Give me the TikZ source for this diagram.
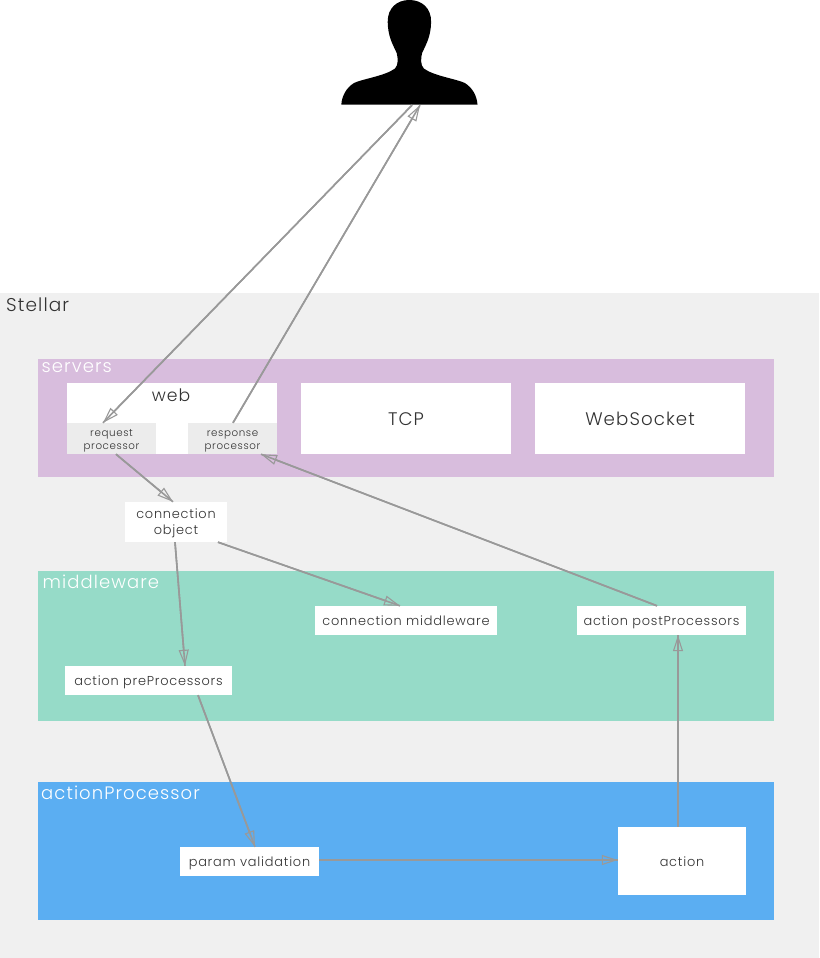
\documentclass[tikz,border=0pt]{standalone}
\usepackage{fontspec}
\setmainfont{Poppins}[UprightFont=* Light,LetterSpace=6]
\usetikzlibrary{arrows.meta}
\definecolor{stellarbg}{HTML}{F0F0F0}
\definecolor{serversbg}{HTML}{D8BDDD}
\definecolor{middlebg}{HTML}{96DBC8}
\definecolor{actionbg}{HTML}{5BAEF2}
\definecolor{procbg}{HTML}{ECECEC}
\definecolor{wire}{HTML}{999999}
\definecolor{ink}{HTML}{333333}
\tikzset{
	panel/.style={shape=rectangle, inner sep=0pt, minimum width=736pt},
	whitebox/.style={shape=rectangle, fill=white, inner sep=0pt, align=center, text=ink, text height=13pt, text depth=3pt, font=\fontsize{12.9}{16}\selectfont},
	bigbox/.style={whitebox, minimum width=210pt, minimum height=71pt, text height=16pt, text depth=3pt, font=\fontsize{18.2}{22}\selectfont},
	procbox/.style={shape=rectangle, fill=procbg, inner sep=0pt, align=center, minimum width=89pt, minimum height=31pt, text=ink, text height=25pt, text depth=3pt, font=\fontsize{10.3}{13.3}\selectfont},
	paneltitle/.style={anchor=base west, inner sep=0pt, text=white, font=\fontsize{18}{20}\selectfont},
	wirearrow/.style={draw=wire, line width=1.6pt, -{Triangle[open, length=16pt, width=10pt, line width=1.1pt]}, postaction={draw=wire, line width=1.6pt, arrows=-}}
}
\begin{document}
\begin{tikzpicture}[x=1pt, y=-1pt]
		\useasboundingbox (0,0) rectangle (819,958);
		% Background and panels:
		\node[shape=rectangle, fill=stellarbg, inner sep=0pt, minimum width=819pt, minimum height=665pt] (stellar) at (409.5, 625.5){};
		\node[panel, fill=serversbg, minimum height=118pt] (servers) at (406, 418){};
		\node[panel, fill=middlebg, minimum height=150pt] (middleware) at (406, 646){};
		\node[panel, fill=actionbg, minimum height=138pt] (actionproc) at (406, 851){};
		\node[anchor=base west, inner sep=0pt, text=ink, font=\fontsize{18.5}{24}\selectfont] (stellarlabel) at (6, 311){Stellar};
		\node[paneltitle] (serverslabel) at (41.5, 372.5){servers};
		\node[paneltitle] (middlelabel) at (42.5, 588.5){middleware};
		\node[paneltitle] (actionlabel) at (41, 799){actionProcessor};
		% Boxes:
		\node[whitebox, minimum width=210pt, minimum height=71pt] (web) at (172, 418.5){};
		\node[anchor=base, inner sep=0pt, text=ink, font=\fontsize{17.2}{22}\selectfont] (weblabel) at (171, 401.2){web};
		\node[procbox] (request) at (111.5, 438.5){request\\processor};
		\node[procbox] (response) at (232.5, 438.5){response\\processor};
		\node[bigbox] (tcp) at (406, 418.5){TCP};
		\node[bigbox] (websocket) at (640, 418.5){WebSocket};
		\node[whitebox, minimum width=102pt, minimum height=40pt, text height=27pt] (connection) at (176, 522){connection\\object};
		\node[whitebox, minimum width=182pt, minimum height=29pt] (connmiddle) at (406, 620.5){connection middleware};
		\node[whitebox, minimum width=169pt, minimum height=29pt] (postproc) at (661.5, 620.5){action postProcessors};
		\node[whitebox, minimum width=167pt, minimum height=29pt] (preproc) at (148.5, 680.5){action preProcessors};
		\node[whitebox, minimum width=139pt, minimum height=29pt] (param) at (249.5, 861.5){param validation};
		\node[whitebox, minimum width=128pt, minimum height=68pt] (action) at (682, 861){action};
		% User silhouette:
		\node[shape=rectangle, inner sep=0pt, minimum width=137pt, minimum height=105pt] (user) at (409.5, 52.5){};
		\fill[black] (341.3, 104.5) .. controls (342, 96) and (346, 88) .. (354, 83)
			.. controls (362, 79) and (385, 76) .. (395, 68.5)
			.. controls (398.5, 65) and (398, 58) .. (396.7, 53)
			.. controls (392, 43) and (388, 36) .. (387.7, 22)
			.. controls (387.5, 8) and (397, 0) .. (409.4, 0)
			.. controls (421.8, 0) and (431.3, 8) .. (431.1, 22)
			.. controls (430.8, 36) and (426.8, 43) .. (422.1, 53)
			.. controls (420.8, 58) and (420.3, 65) .. (423.8, 68.5)
			.. controls (433.8, 76) and (456.8, 79) .. (464.8, 83)
			.. controls (472.8, 88) and (476.8, 96) .. (477.5, 104.5) -- cycle;
		% Connectors:
		\draw[wirearrow] ([xshift=2.5pt]user.south) -- ([xshift=-8.5pt]request.north);
		\draw[wirearrow] ([xshift=0.5pt]response.north) -- ([xshift=10.5pt]user.south);
		\draw[wirearrow] ([xshift=4.5pt]request.south) -- ([xshift=-3pt]connection.north);
		\draw[wirearrow] ([xshift=-1pt]connection.south) -- ([xshift=36.5pt]preproc.north);
		\draw[wirearrow] ([xshift=42pt]connection.south) -- ([xshift=-6pt]connmiddle.north);
		\draw[wirearrow] ([xshift=49.5pt]preproc.south) -- ([xshift=5.5pt]param.north);
		\draw[wirearrow] ([yshift=1.5pt]param.east) -- ([yshift=1pt]action.west);
		\draw[wirearrow] ([xshift=-4pt]action.north) -- ([xshift=16.5pt]postproc.south);
		\draw[wirearrow] ([xshift=-4.5pt]postproc.north) -- ([xshift=28.5pt]response.south);
	\end{tikzpicture}
\end{document}
